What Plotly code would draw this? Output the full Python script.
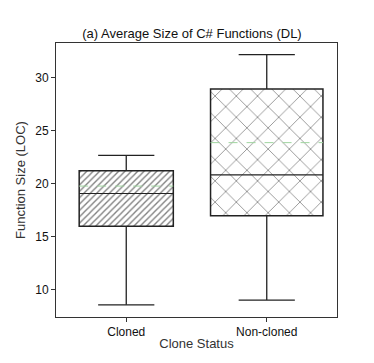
import plotly.graph_objects as go

categories = ["Cloned", "Non-cloned"]
lower_whisker = [8.6, 9.05]
q1_values = [16.0, 17.0]
medians = [19.1, 20.85]
q3_values = [21.25, 28.95]
upper_whisker = [22.7, 32.2]
means = [19.8, 23.9]
patterns = ["/", "x"]
pattern_sizes = [4.5, 15]
pattern_solidity = [0.3, 0.1]
box_widths = [0.67, 0.80]
cap_widths = [0.40, 0.40]
y_ticks = [10, 15, 20, 25, 30]

LINE = "#222222"
fig = go.Figure()
for i, cat in enumerate(categories):
    w = box_widths[i]
    c = cap_widths[i]
    fig.add_trace(go.Scatter(
        x=[i, i, None, i, i, None, i - c / 2, i + c / 2, None, i - c / 2, i + c / 2],
        y=[q3_values[i], upper_whisker[i], None, q1_values[i], lower_whisker[i], None,
           upper_whisker[i], upper_whisker[i], None, lower_whisker[i], lower_whisker[i]],
        mode="lines", line=dict(color=LINE, width=1.3),
        showlegend=False, hoverinfo="skip",
    ))
    fig.add_trace(go.Bar(
        x=[i], base=[q1_values[i]], y=[q3_values[i] - q1_values[i]], width=w,
        marker=dict(color="white", line=dict(color=LINE, width=1.5),
                    pattern=dict(shape=patterns[i], size=pattern_sizes[i],
                                 solidity=pattern_solidity[i],
                                 fgcolor="#000000", bgcolor="white", fillmode="overlay")),
        showlegend=False, hoverinfo="skip",
    ))
    fig.add_trace(go.Scatter(
        x=[i - w / 2, i + w / 2], y=[medians[i], medians[i]],
        mode="lines", line=dict(color=LINE, width=1.2),
        showlegend=False, hoverinfo="skip",
    ))
    fig.add_trace(go.Scatter(
        x=[i - w / 2, i + w / 2], y=[means[i], means[i]],
        mode="lines", line=dict(color="#9fd49f", width=1, dash="dash"),
        showlegend=False, hoverinfo="skip",
    ))

axis_common = dict(showline=True, linecolor="#333333", linewidth=1, mirror=True,
                   ticks="outside", ticklen=4, tickcolor="#333333", showgrid=False,
                   zeroline=False, tickfont=dict(family="Liberation Sans, Arial", size=12, color="#111"))

fig.update_layout(
    width=374, height=363,
    margin=dict(l=39, r=45, t=35, b=54),
    paper_bgcolor="white", plot_bgcolor="white",
    barmode="overlay",
    title=dict(text="(a) Average Size of C# Functions (DL)", x=(39 + 145) / 374, xanchor="center",
               y=1 - 25 / 363, yanchor="middle",
               font=dict(family="Liberation Sans, Arial", size=13, color="#111")),
    xaxis=dict(range=[-0.5, 1.5], tickvals=[0, 1], ticktext=categories,
               title=dict(text="Clone Status", standoff=0,
                          font=dict(family="Liberation Sans, Arial", size=13, color="#333")),
               **axis_common),
    yaxis=dict(range=[7.45, 33.3], tickvals=y_ticks,
               title=dict(text="Function Size (LOC)", standoff=6,
                          font=dict(family="Liberation Sans, Arial", size=13, color="#333")),
               **axis_common),
)
fig.write_html("out.html")
